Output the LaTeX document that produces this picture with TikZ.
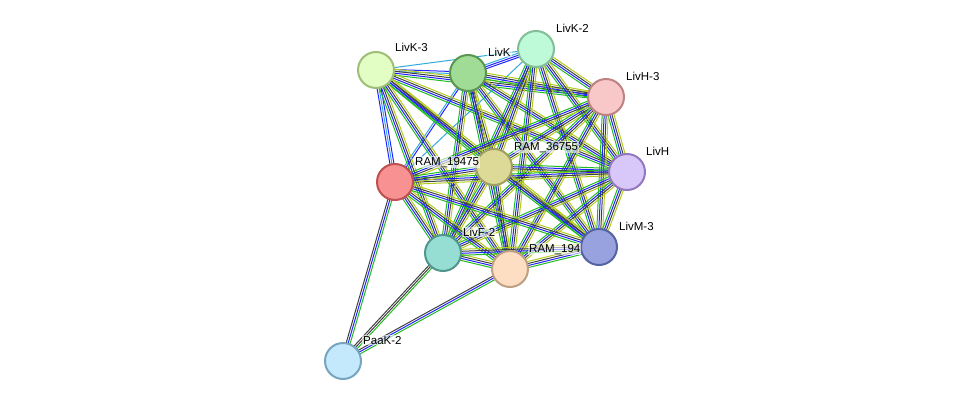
\documentclass[tikz,border=0pt]{standalone}
\usepackage{fontspec}
\setmainfont{Liberation Sans}
\usetikzlibrary{calc,backgrounds}
\definecolor{eg}{HTML}{22BB22}
\definecolor{eb}{HTML}{2222FF}
\definecolor{ek}{HTML}{404040}
\definecolor{ey}{HTML}{B4CC1E}
\definecolor{ec}{HTML}{33AADD}
\definecolor{ev}{HTML}{9999EE}
\tikzset{
  pn/.style={circle,minimum size=36pt,inner sep=0pt,line width=2pt},
  lb/.style={anchor=base west,inner sep=1pt,fill=white,fill opacity=0.6,text opacity=1,font=\fontsize{11.5}{13}\selectfont},
  ed/.style={line width=1pt}
}
\newcommand\E[3]{\foreach \o/\cc in #3 {\draw[ed,draw=\cc] ($(#1)!\o pt!90:(#2)$) -- ($(#2)!\o pt!-90:(#1)$);}}
\def\std{-3/eg,-1/eb,1/ek,3/ey}
\begin{document}
\begin{tikzpicture}[x=1pt,y=-1pt]
\useasboundingbox (0,0) rectangle (975,407);
\node[pn,draw={rgb,255:red,160;green,190;blue,120},fill={rgb,255:red,226;green,254;blue,196}] (K3) at (376,70) {};
\node[pn,draw={rgb,255:red,90;green,150;blue,80},fill={rgb,255:red,160;green,220;blue,150}] (K) at (468,73) {};
\node[pn,draw={rgb,255:red,130;green,190;blue,150},fill={rgb,255:red,190;green,250;blue,215}] (K2) at (536,49) {};
\node[pn,draw={rgb,255:red,190;green,130;blue,130},fill={rgb,255:red,248;green,200;blue,200}] (H3) at (606,97) {};
\node[pn,draw={rgb,255:red,150;green,120;blue,190},fill={rgb,255:red,216;green,200;blue,250}] (H) at (627,172) {};
\node[pn,draw={rgb,255:red,160;green,160;blue,100},fill={rgb,255:red,220;green,218;blue,150}] (R3) at (494,167) {};
\node[pn,draw={rgb,255:red,190;green,80;blue,80},fill={rgb,255:red,248;green,145;blue,145}] (R1) at (395,182) {};
\node[pn,draw={rgb,255:red,80;green,150;blue,140},fill={rgb,255:red,150;green,222;blue,212}] (F2) at (443,253) {};
\node[pn,draw={rgb,255:red,190;green,160;blue,130},fill={rgb,255:red,254;green,222;blue,195}] (R4) at (510,269) {};
\node[pn,draw={rgb,255:red,85;green,100;blue,160},fill={rgb,255:red,152;green,162;blue,222}] (M3) at (599,247) {};
\node[pn,draw={rgb,255:red,120;green,165;blue,190},fill={rgb,255:red,196;green,232;blue,252}] (P) at (343,361) {};
\begin{pgfonlayer}{background}
\E{K3}{K2}{{0/ec}}
\E{K3}{K}{{-1/ec,1/eb}}
\E{K3}{R1}{{-2/eb,0/ec,2/eb}}
\E{K}{R1}{{-1/ec,1/eb}}
\E{K2}{R1}{{0/ec}}
\E{K}{K2}{{-2/eb,0/eb,2/ec}}
\foreach \a/\bb in {K3/H3,K3/H,K3/R3,K3/F2,K3/R4,K3/M3,
  K/H3,K/H,K/R3,K/F2,K/R4,K/M3,
  K2/H3,K2/H,K2/R3,K2/F2,K2/R4,K2/M3,
  H3/H,H3/R3,H3/R1,H3/F2,H3/R4,H3/M3,
  H/R3,H/R1,H/F2,H/R4,H/M3,
  R3/R1,R3/F2,R3/R4,R3/M3,
  R1/F2,R1/R4,R1/M3,F2/R4,F2/M3,R4/M3}{\E{\a}{\bb}{\std}}
\E{P}{R1}{{-2/eg,0/eb,2/ek}}
\E{P}{F2}{{-2/eg,0/ek,2/ek}}
\E{P}{R4}{{-2/eg,0/eb,2/ek}}
\end{pgfonlayer}
\node[lb] at (394,51) {LivK-3};
\node[lb] at (487,56) {LivK};
\node[lb] at (555,32) {LivK-2};
\node[lb] at (625,80) {LivH-3};
\node[lb] at (645,155) {LivH};
\node[lb] at (513,150) {RAM\_36755};
\node[lb] at (414,165) {RAM\_19475};
\node[lb] at (462,236) {LivF-2};
\node[lb] at (528,252) {RAM\_194};
\node[lb] at (618,230) {LivM-3};
\node[lb] at (362,344) {PaaK-2};
\end{tikzpicture}
\end{document}
